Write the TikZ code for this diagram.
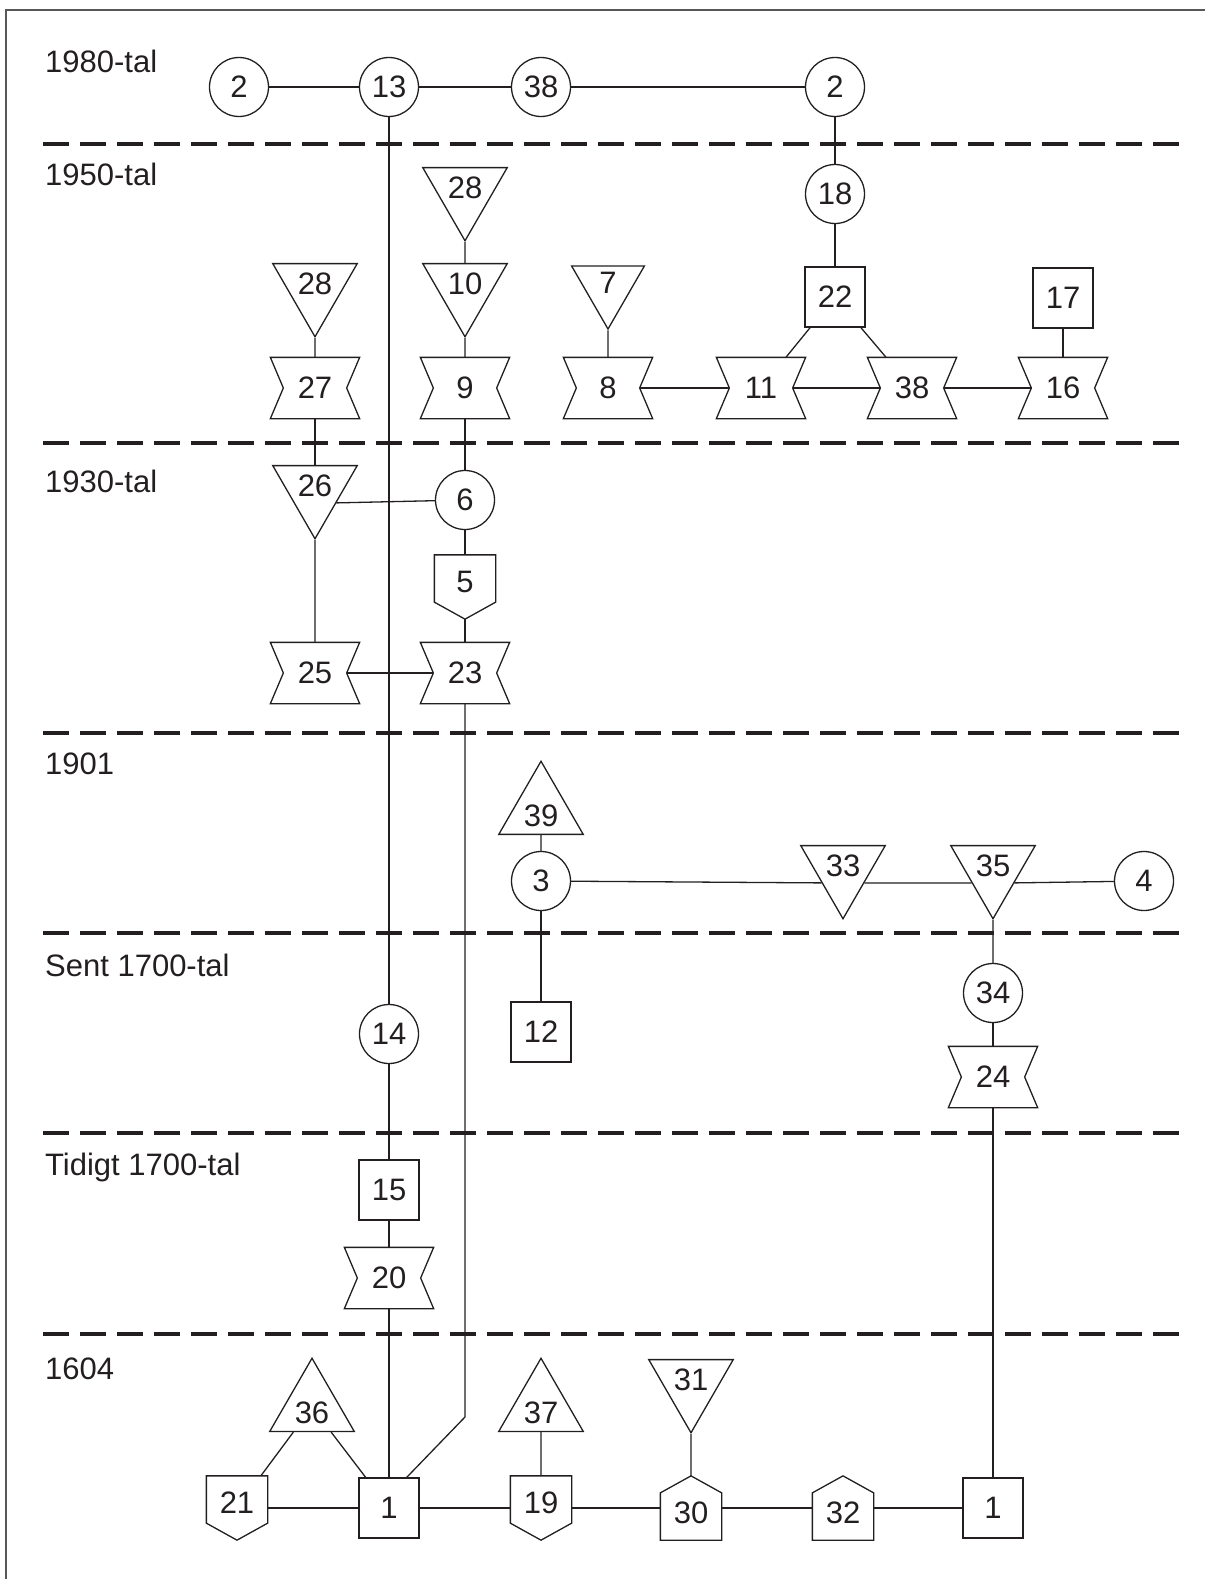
\documentclass[tikz,border=0pt]{standalone}
\usepackage{fontspec}
\setmainfont{Liberation Sans}
\usetikzlibrary{shapes.geometric}
\definecolor{ink}{HTML}{231F20}
\newcommand{\numfont}{\fontsize{31pt}{31pt}\selectfont}
% text sits nearer the broad side of a triangle
\newcommand{\lift}[1]{\raisebox{5pt}[22pt][0pt]{#1}}
\newcommand{\sink}[1]{\raisebox{-5pt}[22pt][0pt]{#1}}
\tikzset{
  base/.style={draw=ink, line width=1.3pt, text=ink, font=\numfont, inner sep=0pt},
  ring/.style={base, circle, minimum size=59pt},
  box/.style={base, rectangle, minimum size=60pt},
  tridown/.style={base, regular polygon, regular polygon sides=3,
                  shape border rotate=180, minimum size=84pt},
  triup/.style={base, regular polygon, regular polygon sides=3, minimum size=84pt},
  hourglass/.style={base, draw=none, rectangle, minimum width=62pt, minimum height=60pt,
    append after command={([xshift=-13pt]\tikzlastnode.north west)
      -- ([xshift=13pt]\tikzlastnode.north east) -- (\tikzlastnode.east)
      -- ([xshift=13pt]\tikzlastnode.south east) -- ([xshift=-13pt]\tikzlastnode.south west)
      -- (\tikzlastnode.west) -- cycle}},
  housedown/.style={base, draw=none, rectangle, minimum width=60pt, minimum height=63pt,
    text depth=10pt,
    append after command={(\tikzlastnode.north west) -- (\tikzlastnode.north east)
      -- ([yshift=17pt]\tikzlastnode.south east) -- (\tikzlastnode.south)
      -- ([yshift=17pt]\tikzlastnode.south west) -- cycle}},
  houseup/.style={base, draw=none, rectangle, minimum width=60pt, minimum height=63pt,
    text height=32pt,
    append after command={(\tikzlastnode.south west) -- (\tikzlastnode.south east)
      -- ([yshift=-17pt]\tikzlastnode.north east) -- (\tikzlastnode.north)
      -- ([yshift=-17pt]\tikzlastnode.north west) -- cycle}},
  link/.style={draw=ink, line width=1.3pt},
  era/.style={draw=ink, line width=3.5pt, dash pattern=on 26pt off 11pt},
  yr/.style={anchor=base west, font=\numfont, text=ink, inner sep=0pt}
}

\begin{document}
\begin{tikzpicture}[x=1pt, y=-1pt]
  \useasboundingbox (0,0) rectangle (1205,1579);
  \draw[draw=ink!75, line width=1.5pt] (6,1579) -- (6,10) -- (1205,10);

  % periods
  \foreach \y in {144,443,733,933,1133,1334}
    \draw[era] (43,\y) -- (1179,\y);
  \node[yr] (y80) at (45,72) {1980-tal};
  \node[yr] (y50) at (45,185) {1950-tal};
  \node[yr] (y30) at (45,492) {1930-tal};
  \node[yr] (y01) at (45,774) {1901};
  \node[yr] (ysent) at (45,976) {Sent 1700-tal};
  \node[yr] (ytid) at (45,1175) {Tidigt 1700-tal};
  \node[yr] (y04) at (45,1379) {1604};

  % 1980-tal
  \node[ring] (n2a) at (239,87) {2};
  \node[ring] (n13) at (389,87) {13};
  \node[ring] (n38a) at (541,87) {38};
  \node[ring] (n2b) at (835,87) {2};

  % 1950-tal
  \node[tridown] (n28a) at (465,192) {\lift{28}};
  \node[ring] (n18) at (835,194) {18};
  \node[box] (n22) at (835,297) {22};
  \node[tridown] (n28b) at (315,288) {\lift{28}};
  \node[tridown] (n10) at (465,288) {\lift{10}};
  \node[tridown] (n7) at (608,287) {\lift{7}};
  \node[box] (n17) at (1063,298) {17};
  \draw[link] (315,388) node[hourglass] (n27) {27};
  \draw[link] (465,388) node[hourglass] (n9) {9};
  \draw[link] (608,388) node[hourglass] (n8) {8};
  \draw[link] (761,388) node[hourglass] (n11) {11};
  \draw[link] (912,388) node[hourglass] (n38b) {38};
  \draw[link] (1063,388) node[hourglass] (n16) {16};

  % 1930-tal
  \node[tridown] (n26) at (315,490) {\lift{26}};
  \node[ring] (n6) at (465,500) {6};
  \draw[link] (465,587) node[housedown] (n5) {5};
  \draw[link] (315,673) node[hourglass] (n25) {25};
  \draw[link] (465,673) node[hourglass] (n23) {23};

  % 1901
  \node[triup] (n39) at (541,810) {\sink{39}};
  \node[ring] (n3) at (541,881) {3};
  \node[tridown] (n33) at (843,870) {\lift{33}};
  \node[tridown] (n35) at (993,870) {\lift{35}};
  \node[ring] (n4) at (1144,881) {4};

  % Sent / Tidigt 1700-tal
  \node[box] (n12) at (541,1032) {12};
  \node[ring] (n34) at (993,993) {34};
  \draw[link] (993,1077) node[hourglass] (n24) {24};
  \node[ring] (n14) at (389,1034) {14};
  \node[box] (n15) at (389,1190) {15};
  \draw[link] (389,1278) node[hourglass] (n20) {20};

  % 1604
  \node[triup] (n36) at (312,1407) {\sink{36}};
  \node[triup] (n37) at (541,1407) {\sink{37}};
  \node[tridown] (n31) at (691,1384) {\lift{31}};
  \draw[link] (237,1508) node[housedown] (n21) {21};
  \node[box] (n1a) at (389,1508) {1};
  \draw[link] (541,1508) node[housedown] (n19) {19};
  \draw[link] (691,1508) node[houseup] (n30) {30};
  \draw[link] (843,1508) node[houseup] (n32) {32};
  \node[box] (n1b) at (993,1508) {1};
  \coordinate (bend) at (465,1417);

  % connections
  \draw[link] (n2a) -- (n13);
  \draw[link] (n13) -- (n38a);
  \draw[link] (n38a) -- (n2b);
  \draw[link] (n2b) -- (n18);
  \draw[link] (n18) -- (n22);
  \draw[link] (n22) -- (n11);
  \draw[link] (n22) -- (n38b);
  \draw[link] (n8) -- (n11);
  \draw[link] (n11) -- (n38b);
  \draw[link] (n38b) -- (n16);
  \draw[link] (n17) -- (n16);
  \draw[link] (n7) -- (n8);
  \draw[link] (n28a) -- (n10);
  \draw[link] (n10) -- (n9);
  \draw[link] (n28b) -- (n27);
  \draw[link] (n27) -- (n26);
  \draw[link] (n9) -- (n6);
  \draw[link] (n26.329) -- (n6);
  \draw[link] (n26) -- (n25);
  \draw[link] (n6) -- (n5);
  \draw[link] (n5) -- (n23);
  \draw[link] (n25) -- (n23);
  \draw[link] (n13) -- (n14);
  \draw[link] (n23) -- (bend) -- (n1a.60);
  \draw[link] (n39) -- (n3);
  \draw[link] (n3) -- (n33.211);
  \draw[link] (n33.329) -- (n35.211);
  \draw[link] (n35.329) -- (n4);
  \draw[link] (n3) -- (n12);
  \draw[link] (n35) -- (n34);
  \draw[link] (n34) -- (n24);
  \draw[link] (n24) -- (n1b);
  \draw[link] (n14) -- (n15);
  \draw[link] (n15) -- (n20);
  \draw[link] (n20) -- (n1a);
  \draw[link] (n36) -- (n21);
  \draw[link] (n36) -- (n1a);
  \draw[link] (n21) -- (n1a);
  \draw[link] (n1a) -- (n19);
  \draw[link] (n37) -- (n19);
  \draw[link] (n19) -- (n30);
  \draw[link] (n31) -- (n30);
  \draw[link] (n30) -- (n32);
  \draw[link] (n32) -- (n1b);
\end{tikzpicture}
\end{document}
